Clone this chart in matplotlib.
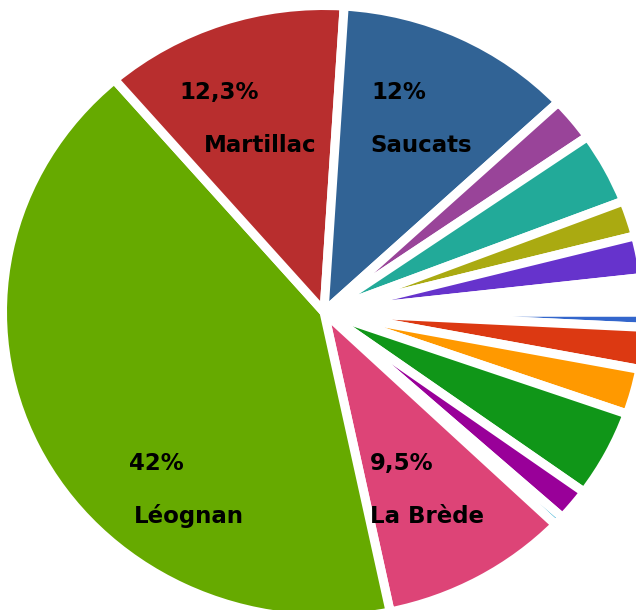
from __future__ import annotations

import matplotlib

matplotlib.use("Agg")
import matplotlib.pyplot as plt


# slice order follows the chart palette, clockwise from 3 o'clock
COMMUNES = [
    "c1", "c2", "c3", "c4", "c5", "c6",
    "La Brède", "Léognan", "Martillac", "Saucats",
    "c11", "c12", "c13", "c14", "c15",
]
SHARES = [0.8, 2.2, 2.4, 4.6, 1.7, 0.5, 9.5, 42.0, 12.3, 12.0, 2.3, 3.8, 1.9, 2.2, 1.8]
COLORS = [
    "#3366cc", "#dc3912", "#ff9900", "#109618", "#990099", "#0099c6",
    "#dd4477", "#66aa00", "#b82e2e", "#316395", "#994499", "#22aa99",
    "#aaaa11", "#6633cc", "#ffffff",
]
PCT_LABELS = {"Martillac": "12,3%", "Saucats": "12%", "Léognan": "42%", "La Brède": "9,5%"}

W, H = 636, 610
CENTER_PX = (324, 312)
RADIUS_PX = (321.5, 306.5)

# label anchors in pixels (left, baseline): percentage line, then name line
LABEL_POS = {
    "Martillac": ((179, 99), (204, 152)),
    "Saucats": ((371, 99), (370, 152)),
    "Léognan": ((129, 470), (134, 523)),
    "La Brède": ((370, 470), (370, 523)),
}


def main() -> None:
    fig = plt.figure(figsize=(W / 100, H / 100), dpi=100)
    fig.patch.set_facecolor("white")
    ax = fig.add_axes([0, 0, 1, 1])

    ax.pie(
        SHARES,
        colors=COLORS,
        startangle=0,
        counterclock=False,
        wedgeprops={"edgecolor": "white", "linewidth": 6.5, "joinstyle": "round"},
    )
    ax.set_aspect("auto")
    cx, cy = CENTER_PX
    rx, ry = RADIUS_PX
    ax.set_xlim(-cx / rx, (W - cx) / rx)
    ax.set_ylim(-(H - cy) / ry, cy / ry)
    ax.axis("off")

    for name, (pct_xy, name_xy) in LABEL_POS.items():
        for text, (x, y) in ((PCT_LABELS[name], pct_xy), (name, name_xy)):
            fig.text(
                x / W, 1 - y / H, text,
                ha="left", va="baseline",
                fontsize=16.5, fontweight="bold", color="black",
                family="DejaVu Sans",
            )

    fig.savefig("out.png", dpi=100, facecolor="white")
    plt.close(fig)


if __name__ == "__main__":
    main()
